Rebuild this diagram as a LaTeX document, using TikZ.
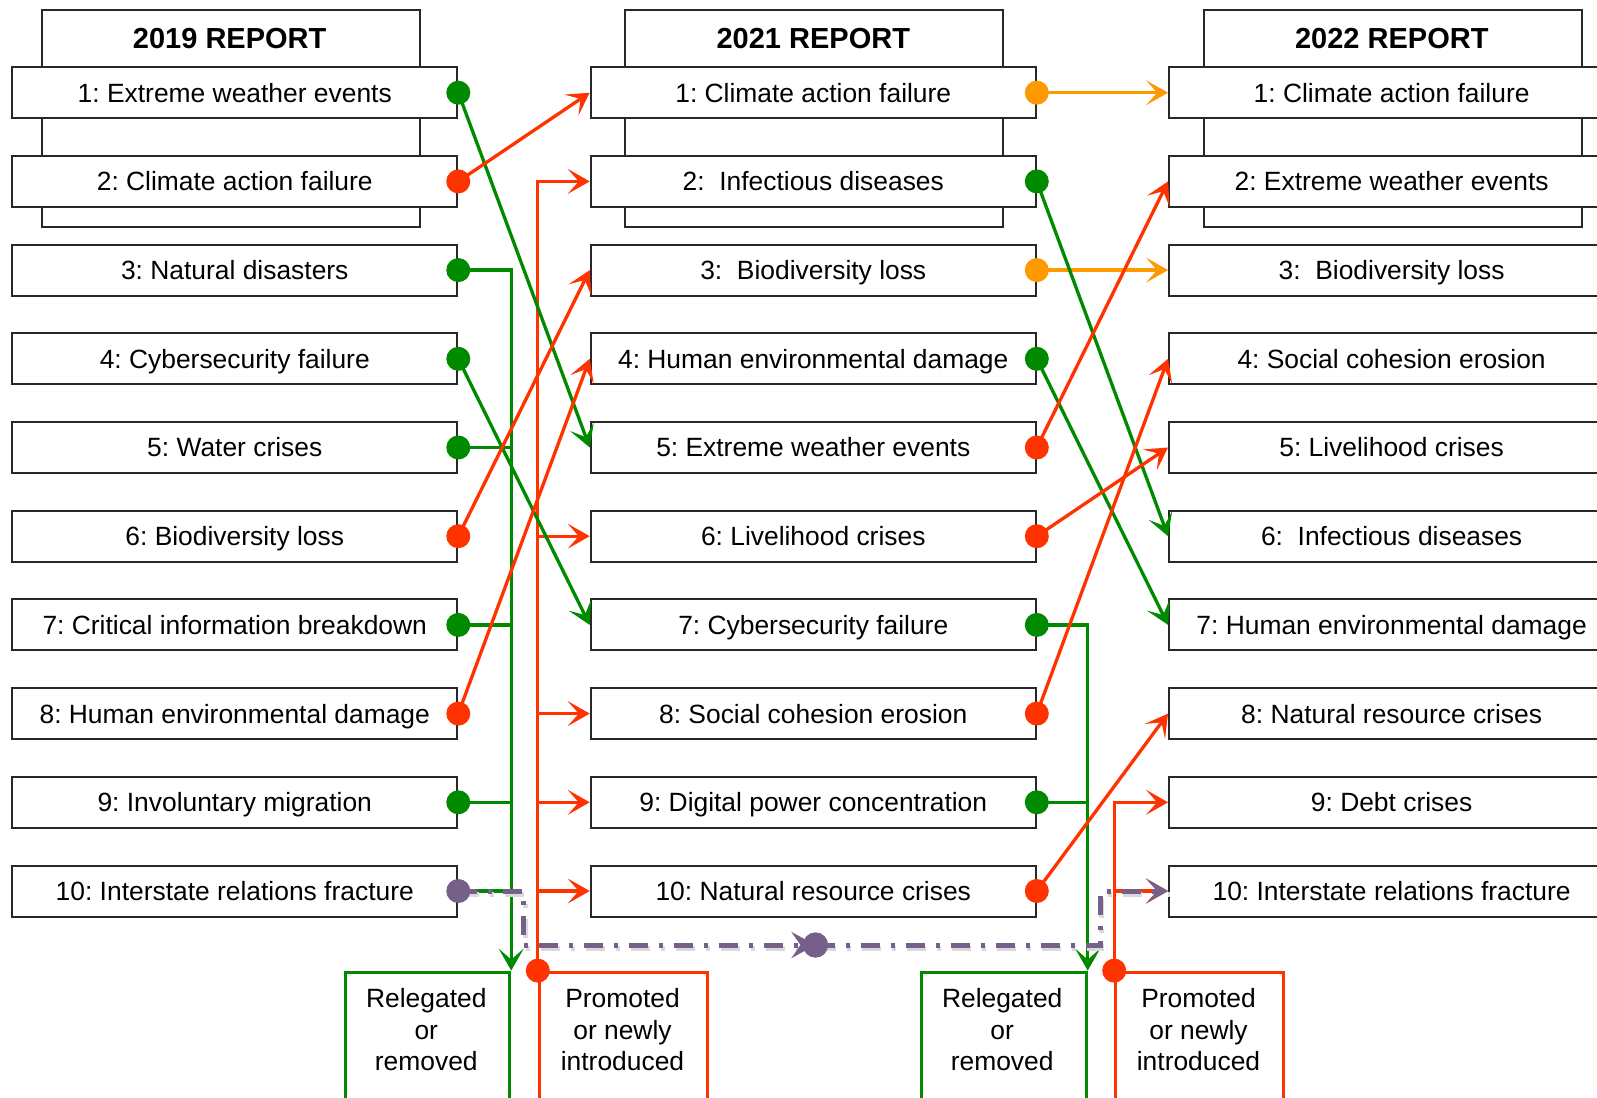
\documentclass[tikz,border=0pt]{standalone}
\usepackage{fontspec}
\setmainfont{Liberation Sans}
\usetikzlibrary{arrows.meta}
\definecolor{cgreen}{RGB}{0,138,0}
\definecolor{cred}{RGB}{255,51,0}
\definecolor{corange}{RGB}{255,153,0}
\definecolor{cpurple}{RGB}{118,96,138}
\definecolor{cbord}{RGB}{40,40,40}
\frenchspacing
\begin{document}
\begin{tikzpicture}[x=1pt,y=-1pt,
  rowbox/.style={draw=cbord,line width=2pt,fill=white,minimum width=445.1pt,minimum height=51pt,inner sep=0pt,text height=24pt,text depth=5.1pt,font=\fontsize{26.4}{31.6}\selectfont},
  hdrbox/.style={draw=cbord,line width=2pt,fill=white,minimum width=378pt,minimum height=216.9pt,inner sep=0pt,anchor=north west},
  hdrtext/.style={font=\fontsize{29}{34}\selectfont\bfseries,inner sep=0pt,text height=26.4pt,text depth=5.6pt},
  lbltext/.style={font=\fontsize{26.4}{31.6}\selectfont,align=center,inner sep=0pt},
  relbox/.style={draw=cgreen,line width=3pt,minimum width=163.9pt,minimum height=160pt,inner sep=0pt,anchor=north west},
  probox/.style={draw=cred,line width=3pt,minimum width=168pt,minimum height=160pt,inner sep=0pt,anchor=north west},
  gl/.style={draw=cgreen,line width=3.3pt},
  rl/.style={draw=cred,line width=3.3pt},
  ol/.style={draw=corange,line width=3.3pt},
  pl/.style={draw=cpurple,line width=5pt,dash pattern=on 19pt off 11pt on 4pt off 11pt},
  opentip/.style={-{Stealth[length=22pt,width=25pt,inset=11pt]}},
  dotmark/.style={circle,minimum size=24pt,inner sep=0pt},
  shadowline/.style={draw=black!15,line width=5pt,dash pattern=on 19pt off 11pt on 4pt off 11pt,transform canvas={shift={(1.5pt,-3pt)}}},
]
\useasboundingbox (0,0) rectangle (1597,1097);
\clip (0,0) rectangle (1597,1097);

% headers
\node[hdrbox] (ha) at (40.7,9.2) {};
\node[hdrbox] (hb) at (624.3,9.2) {};
\node[hdrbox] (hc) at (1202.8,9.2) {};
\node[hdrtext] (hta) at (229.7,37.7) {2019 REPORT};
\node[hdrtext] (htb) at (813.3,37.7) {2021 REPORT};
\node[hdrtext] (htc) at (1391.8,37.7) {2022 REPORT};

% 2019 column
\node[rowbox] (a1) at (234.75,92.7) {1: Extreme weather events};
\node[rowbox] (a2) at (234.75,181.4) {2: Climate action failure};
\node[rowbox] (a3) at (234.75,270.1) {3: Natural disasters};
\node[rowbox] (a4) at (234.75,358.8) {4: Cybersecurity failure};
\node[rowbox] (a5) at (234.75,447.5) {5: Water crises};
\node[rowbox] (a6) at (234.75,536.2) {6: Biodiversity loss};
\node[rowbox] (a7) at (234.75,624.9) {7: Critical information breakdown};
\node[rowbox] (a8) at (234.75,713.6) {8: Human environmental damage};
\node[rowbox] (a9) at (234.75,802.3) {9: Involuntary migration};
\node[rowbox] (a10) at (234.75,891.0) {10: Interstate relations fracture};

% 2021 column
\node[rowbox] (b1) at (813.25,92.7) {1: Climate action failure};
\node[rowbox] (b2) at (813.25,181.4) {2:~~Infectious diseases};
\node[rowbox] (b3) at (813.25,270.1) {3:~~Biodiversity loss};
\node[rowbox] (b4) at (813.25,358.8) {4: Human environmental damage};
\node[rowbox] (b5) at (813.25,447.5) {5: Extreme weather events};
\node[rowbox] (b6) at (813.25,536.2) {6: Livelihood crises};
\node[rowbox] (b7) at (813.25,624.9) {7: Cybersecurity failure};
\node[rowbox] (b8) at (813.25,713.6) {8: Social cohesion erosion};
\node[rowbox] (b9) at (813.25,802.3) {9: Digital power concentration};
\node[rowbox] (b10) at (813.25,891.0) {10: Natural resource crises};

% 2022 column
\node[rowbox] (c1) at (1391.6,92.7) {1: Climate action failure};
\node[rowbox] (c2) at (1391.6,181.4) {2: Extreme weather events};
\node[rowbox] (c3) at (1391.6,270.1) {3:~~Biodiversity loss};
\node[rowbox] (c4) at (1391.6,358.8) {4: Social cohesion erosion};
\node[rowbox] (c5) at (1391.6,447.5) {5: Livelihood crises};
\node[rowbox] (c6) at (1391.6,536.2) {6:~~Infectious diseases};
\node[rowbox] (c7) at (1391.6,624.9) {7: Human environmental damage};
\node[rowbox] (c8) at (1391.6,713.6) {8: Natural resource crises};
\node[rowbox] (c9) at (1391.6,802.3) {9: Debt crises};
\node[rowbox] (c10) at (1391.6,891.0) {10: Interstate relations fracture};

% bottom boxes
\node[relbox] (r1) at (344.3,970.6) {};
\node[probox] (p1) at (537.8,970.6) {};
\node[relbox,minimum width=165pt] (r2) at (919.7,970.6) {};
\node[probox] (p2) at (1114.2,970.6) {};
\node[lbltext] (rt1) at (426.3,1029.7) {Relegated\\or\\removed};
\node[lbltext] (pt1) at (622.5,1029.7) {Promoted\\or newly\\introduced};
\node[lbltext] (rt2) at (1002.2,1029.7) {Relegated\\or\\removed};
\node[lbltext] (pt2) at (1198.5,1029.7) {Promoted\\or newly\\introduced};

% relegated (green) 2019 -> bin
\draw[gl,opentip] (a3.east) -| (r1.north east);
\draw[gl] (a5.east) -- (a5.east -| r1.north east);
\draw[gl] (a7.east) -- (a7.east -| r1.north east);
\draw[gl] (a9.east) -- (a9.east -| r1.north east);
\draw[gl] (a10.east) -- (a10.east -| r1.north east);

% promoted (red) -> 2021
\draw[rl,opentip] (p1.north west) |- (b2.west);
\draw[rl,opentip] (p1.north west |- b6.west) -- (b6.west);
\draw[rl,opentip] (p1.north west |- b8.west) -- (b8.west);
\draw[rl,opentip] (p1.north west |- b9.west) -- (b9.west);
\draw[rl,opentip] (p1.north west |- b10.west) -- (b10.west);

% 2019 -> 2021 direct
\draw[gl,opentip] (a1.east) -- (b5.west);
\draw[gl,opentip] (a4.east) -- (b7.west);
\draw[rl,opentip] (a2.east) -- (b1.west);
\draw[rl,opentip] (a6.east) -- (b3.west);
\draw[rl,opentip] (a8.east) -- (b4.west);

% relegated 2021 -> bin
\draw[gl,opentip] (b7.east) -| (r2.north east);
\draw[gl] (b9.east) -- (b9.east -| r2.north east);

% promoted -> 2022
\draw[rl,opentip] (p2.north west) |- (c9.west);
\draw[rl,opentip] (p2.north west |- c10.west) -- (c10.west);

% 2021 -> 2022 direct
\draw[ol,opentip] (b1.east) -- (c1.west);
\draw[ol,opentip] (b3.east) -- (c3.west);
\draw[gl,opentip] (b2.east) -- (c6.west);
\draw[gl,opentip] (b4.east) -- (c7.west);
\draw[rl,opentip] (b5.east) -- (c2.west);
\draw[rl,opentip] (b6.east) -- (c5.west);
\draw[rl,opentip] (b8.east) -- (c4.west);
\draw[rl,opentip] (b10.east) -- (c8.west);

% purple path (interstate relations fracture)
\node[dotmark,fill=cpurple,minimum size=25pt] (pdot) at (815.5,945) {};
\coordinate (pk1) at (523.5,945);
\coordinate (pk2) at (1100,945);
\draw[shadowline] (a10.east) -| (pk1) -- (pdot.center);
\draw[shadowline] (pdot.center) -- (pk2) |- (c10.west);
\draw[pl,-{Stealth[length=24pt,width=26pt,inset=9pt]}] (a10.east) -| (pk1) -- (pdot.center);
\draw[pl,-{Stealth[length=22pt,width=25pt,inset=11pt]}] (pdot.center) -- (pk2) |- (c10.west);
\node[dotmark,fill=cpurple,minimum size=25pt] at (pdot) {};

% dots
\foreach \n/\c in {a1/cgreen,a2/cred,a3/cgreen,a4/cgreen,a5/cgreen,a6/cred,a7/cgreen,a8/cred,a9/cgreen,a10/cpurple,
  b1/corange,b2/cgreen,b3/corange,b4/cgreen,b5/cred,b6/cred,b7/cgreen,b8/cred,b9/cgreen,b10/cred}
  \node[dotmark,fill=\c] at (\n.east) {};
\node[dotmark,fill=cred] at (p1.north west) {};
\node[dotmark,fill=cred] at (p2.north west) {};
\end{tikzpicture}
\end{document}
